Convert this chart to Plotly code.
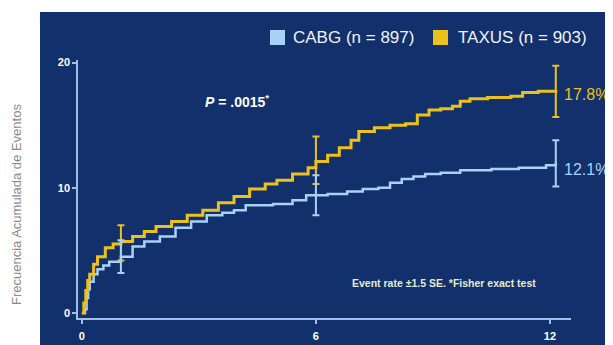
import plotly.graph_objects as go

# ---- data ----
taxus_months = [0, 0.05, 0.1, 0.15, 0.2, 0.3, 0.4, 0.6, 0.8, 1.0, 1.3, 1.6, 1.9, 2.3, 2.7, 3.1, 3.5, 3.9,
                4.3, 4.7, 5.0, 5.4, 5.8, 6.0, 6.3, 6.6, 6.9, 7.1, 7.5, 7.9, 8.3, 8.6, 8.9, 9.2, 9.5, 9.7,
                9.95, 10.4, 11.0, 11.3, 11.7, 12.15]
taxus_rate = [0, 0.8, 1.8, 2.6, 3.1, 3.9, 4.5, 5.2, 5.5, 5.7, 6.1, 6.5, 6.9, 7.3, 7.8, 8.2, 8.8, 9.3,
              9.9, 10.3, 10.6, 11.1, 11.6, 12.1, 12.6, 13.2, 13.8, 14.5, 14.8, 15.0, 15.1, 15.8, 16.2, 16.3, 16.5, 16.9,
              17.1, 17.2, 17.3, 17.6, 17.7, 17.8]

cabg_months = [0, 0.08, 0.12, 0.16, 0.2, 0.3, 0.4, 0.55, 0.7, 1.0, 1.3, 1.6, 2.0, 2.4, 2.8, 3.2, 3.6, 3.9,
               4.2, 4.9, 5.4, 5.75, 6.3, 6.8, 7.2, 7.6, 7.9, 8.2, 8.5, 8.8, 9.2, 9.7, 10.5, 11.2, 11.7, 11.9, 12.15]
cabg_rate = [0, 0.3, 1.2, 1.9, 2.5, 3.1, 3.5, 3.8, 4.1, 4.5, 5.3, 5.7, 6.1, 6.8, 7.3, 7.8, 8.0, 8.2,
             8.6, 8.7, 9.0, 9.4, 9.5, 9.7, 9.9, 10.0, 10.4, 10.7, 10.9, 11.1, 11.2, 11.4, 11.5, 11.6, 11.6, 11.8, 12.0]

bar_months = [1, 6, 12.15]
taxus_bar_rate = [5.6, 12.2, 17.7]
taxus_bar_err = [1.4, 1.9, 2.05]
cabg_bar_rate = [4.5, 9.4, 11.95]
cabg_bar_err = [1.3, 1.6, 1.85]

x_ticks = [0, 6, 12]
y_ticks = [0, 10, 20]

GOLD = "#ecc21a"
LBLUE = "#a9d1f7"
NAVY = "#12306c"
AXIS = "#9dbfe8"

# page offset (browser body margin) and figure size
OFF = 8
W, H = 613 - OFF, 345 - OFF
# plot area in screenshot pixel coordinates
L, R, T, B = 78, 571, 60, 318
def px(x):
    return (x - L) / (R - L)
def py(y):
    return (B - y) / (B - T)

fig = go.Figure()

fig.add_trace(go.Scatter(x=cabg_months, y=cabg_rate, mode="lines", line=dict(color=LBLUE, width=2.5, shape="hv"),
                         showlegend=False, hoverinfo="skip"))
fig.add_trace(go.Scatter(x=taxus_months, y=taxus_rate, mode="lines", line=dict(color=GOLD, width=3, shape="hv"),
                         showlegend=False, hoverinfo="skip"))
fig.add_trace(go.Scatter(x=bar_months, y=taxus_bar_rate, mode="markers", marker=dict(size=1, color=GOLD, opacity=0),
                         error_y=dict(type="data", array=taxus_bar_err, color=GOLD, thickness=2, width=3.5),
                         showlegend=False, hoverinfo="skip"))
fig.add_trace(go.Scatter(x=bar_months, y=cabg_bar_rate, mode="markers", marker=dict(size=1, color=LBLUE, opacity=0),
                         error_y=dict(type="data", array=cabg_bar_err, color=LBLUE, thickness=2, width=3.5),
                         showlegend=False, hoverinfo="skip"))

shapes = [
    dict(type="rect", xref="paper", yref="paper", x0=px(40), x1=px(640), y0=py(380), y1=py(12),
         fillcolor=NAVY, line=dict(width=0), layer="below"),
    dict(type="rect", xref="paper", yref="paper", x0=px(270), x1=px(285), y0=py(45), y1=py(30),
         fillcolor=LBLUE, line=dict(width=0)),
    dict(type="rect", xref="paper", yref="paper", x0=px(433), x1=px(448), y0=py(45), y1=py(30),
         fillcolor=GOLD, line=dict(width=0)),
]

ann = [
    dict(text="CABG (n = 897)", x=px(291), y=py(37), xanchor="left", yanchor="middle",
         font=dict(color="#eef3fb", size=17, family="Arial")),
    dict(text="TAXUS (n = 903)", x=px(456), y=py(37), xanchor="left", yanchor="middle",
         font=dict(color="#eef3fb", size=17, family="Arial")),
    dict(text="<i>P</i> = .0015<sup>*</sup>", x=px(237), y=py(101), xanchor="center", yanchor="middle",
         font=dict(color="white", size=14, family="Arial", weight="bold")),
    dict(text="Event rate ±1.5 SE. *Fisher exact test", x=px(444), y=py(283), xanchor="center", yanchor="middle",
         font=dict(color="#e4ead2", size=10.5, family="Arial", weight="bold")),
    dict(text="17.8%", x=px(562), y=py(94), xanchor="left", yanchor="middle",
         font=dict(color=GOLD, size=16, family="Arial")),
    dict(text="12.1%", x=px(562), y=py(169), xanchor="left", yanchor="middle",
         font=dict(color=LBLUE, size=16, family="Arial")),
    dict(text="Frecuencia Acumulada de Eventos", x=px(16), y=py(205), xanchor="center", yanchor="middle",
         textangle=-90, font=dict(color="#8a8a8a", size=13, family="Arial")),
]
for a in ann:
    a.update(xref="paper", yref="paper", showarrow=False)

fig.update_layout(
    width=W, height=H,
    margin=dict(l=L - OFF, r=613 - R, t=T - OFF, b=345 - B, autoexpand=False),
    paper_bgcolor="white", plot_bgcolor="rgba(0,0,0,0)",
    shapes=shapes, annotations=ann, showlegend=False,
    xaxis=dict(range=[-0.1, 12.54], tickvals=x_ticks, ticktext=[str(v) for v in x_ticks],
               showgrid=False, zeroline=False, showline=True, linecolor=AXIS, linewidth=1.5,
               ticks="outside", ticklen=4, tickcolor=AXIS, tickwidth=1.5, ticklabelstandoff=3,
               tickfont=dict(color="white", size=11, family="Arial", weight="bold")),
    yaxis=dict(range=[-0.4, 20.2], tickvals=y_ticks, ticktext=[str(v) for v in y_ticks],
               showgrid=False, zeroline=False, showline=True, linecolor=AXIS, linewidth=1.5,
               ticks="outside", ticklen=4, tickcolor=AXIS, tickwidth=1.5,
               tickfont=dict(color="white", size=11, family="Arial", weight="bold")),
)

fig.write_html("out.html")
